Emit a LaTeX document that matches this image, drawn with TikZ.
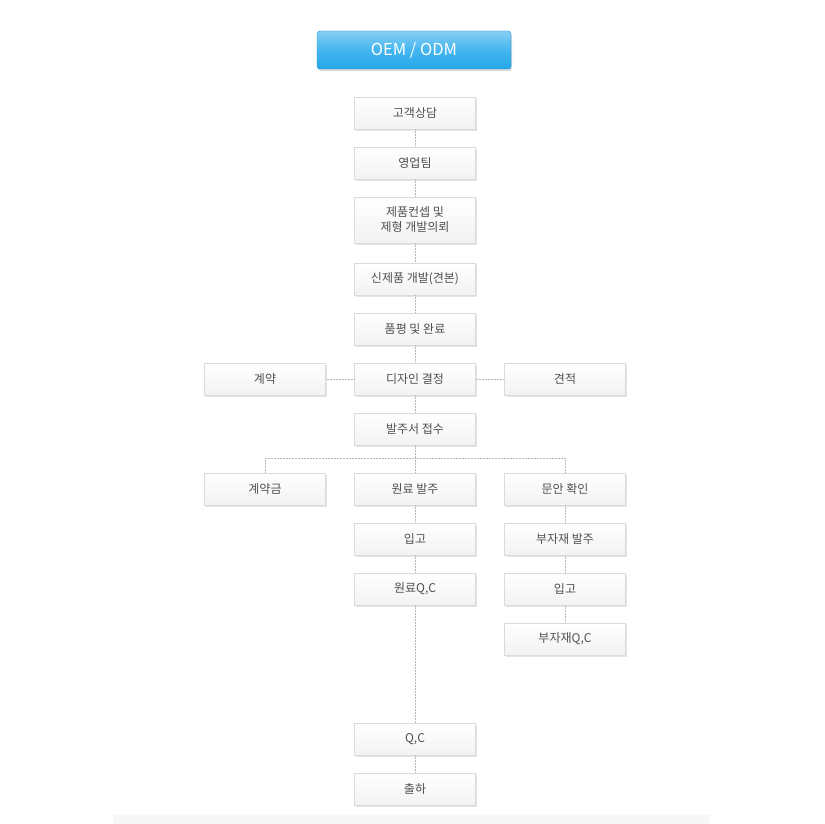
\documentclass[tikz,border=0pt]{standalone}
\usepackage{fontspec}
\setmainfont{Noto Sans CJK KR}
\usetikzlibrary{shadows}
\definecolor{boxline}{RGB}{218,218,218}
\definecolor{boxtext}{RGB}{80,80,80}
\definecolor{headblue}{RGB}{35,168,235}
\definecolor{headline}{RGB}{25,145,215}
\definecolor{dotline}{RGB}{180,180,180}

\begin{document}
\begin{tikzpicture}[x=1pt, y=-1pt,
  stepbox/.style={draw=boxline, line width=0.6pt, top color=white, bottom color=black!5,
    text=boxtext, align=center, minimum width=121pt, minimum height=32pt, inner sep=1pt,
    font=\fontsize{12}{15}\selectfont,
    drop shadow={shadow xshift=1.5pt, shadow yshift=-2pt, fill=black, opacity=0.1}},
  headbox/.style={draw=headline, rounded corners=3pt, top color=headblue!55!white, bottom color=headblue,
    middle color=headblue!85!white, text=white, minimum width=194pt, minimum height=38pt,
    font=\fontsize{16.5}{18}\selectfont,
    drop shadow={shadow xshift=1pt, shadow yshift=-2pt, fill=black, opacity=0.15}},
  link/.style={draw=dotline, densely dotted, line width=0.5pt}]
  \useasboundingbox[fill=white] (0,0) rectangle (824,824);
  \fill[black!3] (113,815) rectangle (710,824);

  \node[headbox] (head) at (414,50) {OEM / ODM};

  % main column
  \node[stepbox] (consult) at (415,113) {고객상담};
  \node[stepbox] (sales) at (415,163) {영업팀};
  \node[stepbox, minimum height=46pt] (request) at (415,220) {제품컨셉 및\\제형 개발의뢰};
  \node[stepbox] (sample) at (415,279) {신제품 개발(견본)};
  \node[stepbox] (review) at (415,329) {품평 및 완료};
  \node[stepbox] (design) at (415,379) {디자인 결정};
  \node[stepbox] (contract) at (265,379) {계약};
  \node[stepbox] (quote) at (565,379) {견적};
  \node[stepbox] (order) at (415,429) {발주서 접수};

  % three branches
  \node[stepbox] (deposit) at (265,489) {계약금};
  \node[stepbox] (rawbuy) at (415,489) {원료 발주};
  \node[stepbox] (copy) at (565,489) {문안 확인};
  \node[stepbox] (rawin) at (415,539) {입고};
  \node[stepbox] (rawqc) at (415,589) {원료Q,C};
  \node[stepbox] (subbuy) at (565,539) {부자재 발주};
  \node[stepbox] (subin) at (565,589) {입고};
  \node[stepbox] (subqc) at (565,639) {부자재Q,C};
  \node[stepbox] (qc) at (415,739) {Q,C};
  \node[stepbox] (ship) at (415,789) {출하};

  \coordinate (split) at (415,458);
  \draw[link] (consult) -- (sales);
  \draw[link] (sales) -- (request);
  \draw[link] (request) -- (sample);
  \draw[link] (sample) -- (review);
  \draw[link] (review) -- (design);
  \draw[link] (design) -- (contract);
  \draw[link] (design) -- (quote);
  \draw[link] (design) -- (order);
  \draw[link] (order) -- (split);
  \draw[link] (split) -| (deposit);
  \draw[link] (split) -| (copy);
  \draw[link] (split) -- (rawbuy);
  \draw[link] (rawbuy) -- (rawin);
  \draw[link] (rawin) -- (rawqc);
  \draw[link] (rawqc) -- (qc);
  \draw[link] (qc) -- (ship);
  \draw[link] (copy) -- (subbuy);
  \draw[link] (subbuy) -- (subin);
  \draw[link] (subin) -- (subqc);
\end{tikzpicture}
\end{document}
